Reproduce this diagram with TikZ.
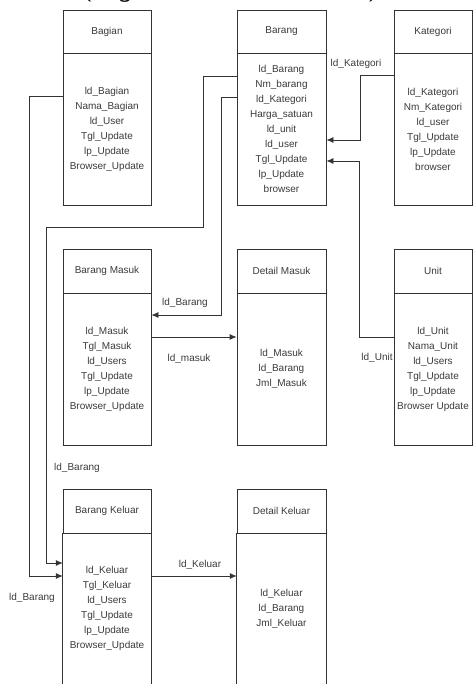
\documentclass[tikz,border=0pt]{standalone}
\usepackage{fontspec}
\setmainfont{Liberation Sans}
\newfontfamily\titlefont{Liberation Serif}
\usetikzlibrary{arrows.meta}
\definecolor{ln}{HTML}{333333}
\definecolor{tx}{HTML}{3A3A3A}
\tikzset{
  hdr/.style={draw=ln, line width=0.8pt, text=tx, font=\fontsize{10}{15}\selectfont, inner sep=0pt},
  bodybox/.style={draw=ln, line width=0.8pt, text=tx, align=center, font=\fontsize{10}{15}\selectfont, inner sep=0pt},
  openbody/.style={draw=none, text=tx, align=center, font=\fontsize{10}{15}\selectfont, inner sep=0pt},
  colL/.style={minimum width=88pt},
  colM/.style={minimum width=89pt},
  colR/.style={minimum width=78pt},
  conn/.style={draw=ln, line width=0.8pt},
  arr/.style={conn, -{Latex[length=7pt,width=6pt]}},
  lbl/.style={text=tx, font=\fontsize{10}{12}\selectfont, inner sep=0pt}
}
\begin{document}
\begin{tikzpicture}[x=1pt,y=-1pt]
\useasboundingbox (0,0) rectangle (473,684);
% title (cut at top)
\node[anchor=base west, inner sep=0pt, font=\titlefont\fontsize{27.5}{30}\selectfont] (title) at (-5,-3) {2. LRS (\textit{Logical Record Structure})};

% top row
\node[hdr, colL, minimum height=43pt] (bagianH) at (107,31.5) {Bagian};
\node[bodybox, colL, minimum height=152pt] (bagianB) at (107,129) {ld\_Bagian\\Nama\_Bagian\\ld\_User\\Tgl\_Update\\lp\_Update\\Browser\_Update};

\node[hdr, colM, minimum height=43pt] (barangH) at (281.5,31.5) {Barang};
\node[bodybox, colM, minimum height=152pt] (barangB) at (281.5,129) {ld\_Barang\\Nm\_barang\\ld\_Kategori\\Harga\_satuan\\ld\_unit\\ld\_user\\Tgl\_Update\\lp\_Update\\browser};

\node[hdr, colR, minimum height=43pt] (kategoriH) at (433,31.5) {Kategori};
\node[bodybox, colR, minimum height=152pt] (kategoriB) at (433,129) {ld\_Kategori\\Nm\_Kategori\\ld\_user\\Tgl\_Update\\lp\_Update\\browser};

% middle row
\node[hdr, colL, minimum height=44pt] (masukH) at (107,271) {Barang Masuk};
\node[bodybox, colL, minimum height=152pt] (masukB) at (107,369) {ld\_Masuk\\Tgl\_Masuk\\ld\_Users\\Tgl\_Update\\lp\_Update\\Browser\_Update};

\node[hdr, colM, minimum height=44pt] (dmasukH) at (281.5,271) {Detail Masuk};
\node[bodybox, colM, minimum height=152pt] (dmasukB) at (281.5,369) {ld\_Masuk\\ld\_Barang\\Jml\_Masuk};

\node[hdr, colR, minimum height=44pt] (unitH) at (433,271) {Unit};
\node[bodybox, colR, minimum height=152pt] (unitB) at (433,369) {ld\_Unit\\Nama\_Unit\\ld\_Users\\Tgl\_Update\\lp\_Update\\Browser Update};

% bottom row (cut at bottom)
\node[hdr, colL, minimum height=44pt] (keluarH) at (107,511) {Barang Keluar};
\node[openbody, colL, minimum height=151pt] (keluarB) at (107,608.5) {ld\_Keluar\\Tgl\_Keluar\\ld\_Users\\Tgl\_Update\\lp\_Update\\Browser\_Update};
\draw[conn] (keluarB.south west) -- (keluarB.north west) (keluarB.north east) -- (keluarB.south east);

\node[hdr, colM, minimum height=44pt] (dkeluarH) at (281.5,511) {Detail Keluar};
\node[openbody, colM, minimum height=151pt] (dkeluarB) at (281.5,608.5) {ld\_Keluar\\ld\_Barang\\Jml\_Keluar};
\draw[conn] (dkeluarB.south west) -- (dkeluarB.north west) (dkeluarB.north east) -- (dkeluarB.south east);

% bend points
\coordinate (j1a) at (203,76);
\coordinate (j1b) at (46,227);
\coordinate (j1c) at (46,563);
\coordinate (j2a) at (221,97);
\coordinate (j2b) at (221,315);
\coordinate (j3a) at (29,96);
\coordinate (j3b) at (29,576);
\coordinate (j4a) at (360,75);
\coordinate (j4b) at (360,140);
\coordinate (j5a) at (359,337);
\coordinate (j5b) at (359,161);
\coordinate (j6) at (0,337);
\coordinate (j7) at (0,576);

% connectors
\draw[arr] (barangB.west |- j1a) -- (j1a) |- (j1b) -- (j1c) -- (keluarB.west |- j1c);
\draw[arr] (barangB.west |- j2a) -- (j2a) -- (j2b) -- (masukB.east |- j2b);
\draw[arr] (bagianB.west |- j3a) -- (j3a) -- (j3b) -- (keluarB.west |- j3b);
\draw[arr] (kategoriB.west |- j4a) -- (j4a) -- (j4b) -- (barangB.east |- j4b);
\draw[arr] (unitB.west |- j5a) -- (j5a) -- (j5b) -- (barangB.east |- j5b);
\draw[arr] (masukB.east |- j6) -- (dmasukB.west |- j6);
\draw[arr] (keluarB.east |- j7) -- (dkeluarB.west |- j7);

% labels
\node[lbl] (l1) at (77,468) {ld\_Barang};
\node[lbl] (l2) at (185,303) {ld\_Barang};
\node[lbl] (l3) at (32,598) {ld\_Barang};
\node[lbl] (l4) at (356,64) {ld\_Kategori};
\node[lbl] (l5) at (377,358) {ld\_Unit};
\node[lbl] (l6) at (189,359) {ld\_masuk};
\node[lbl] (l7) at (200,565) {ld\_Keluar};
\end{tikzpicture}
\end{document}
